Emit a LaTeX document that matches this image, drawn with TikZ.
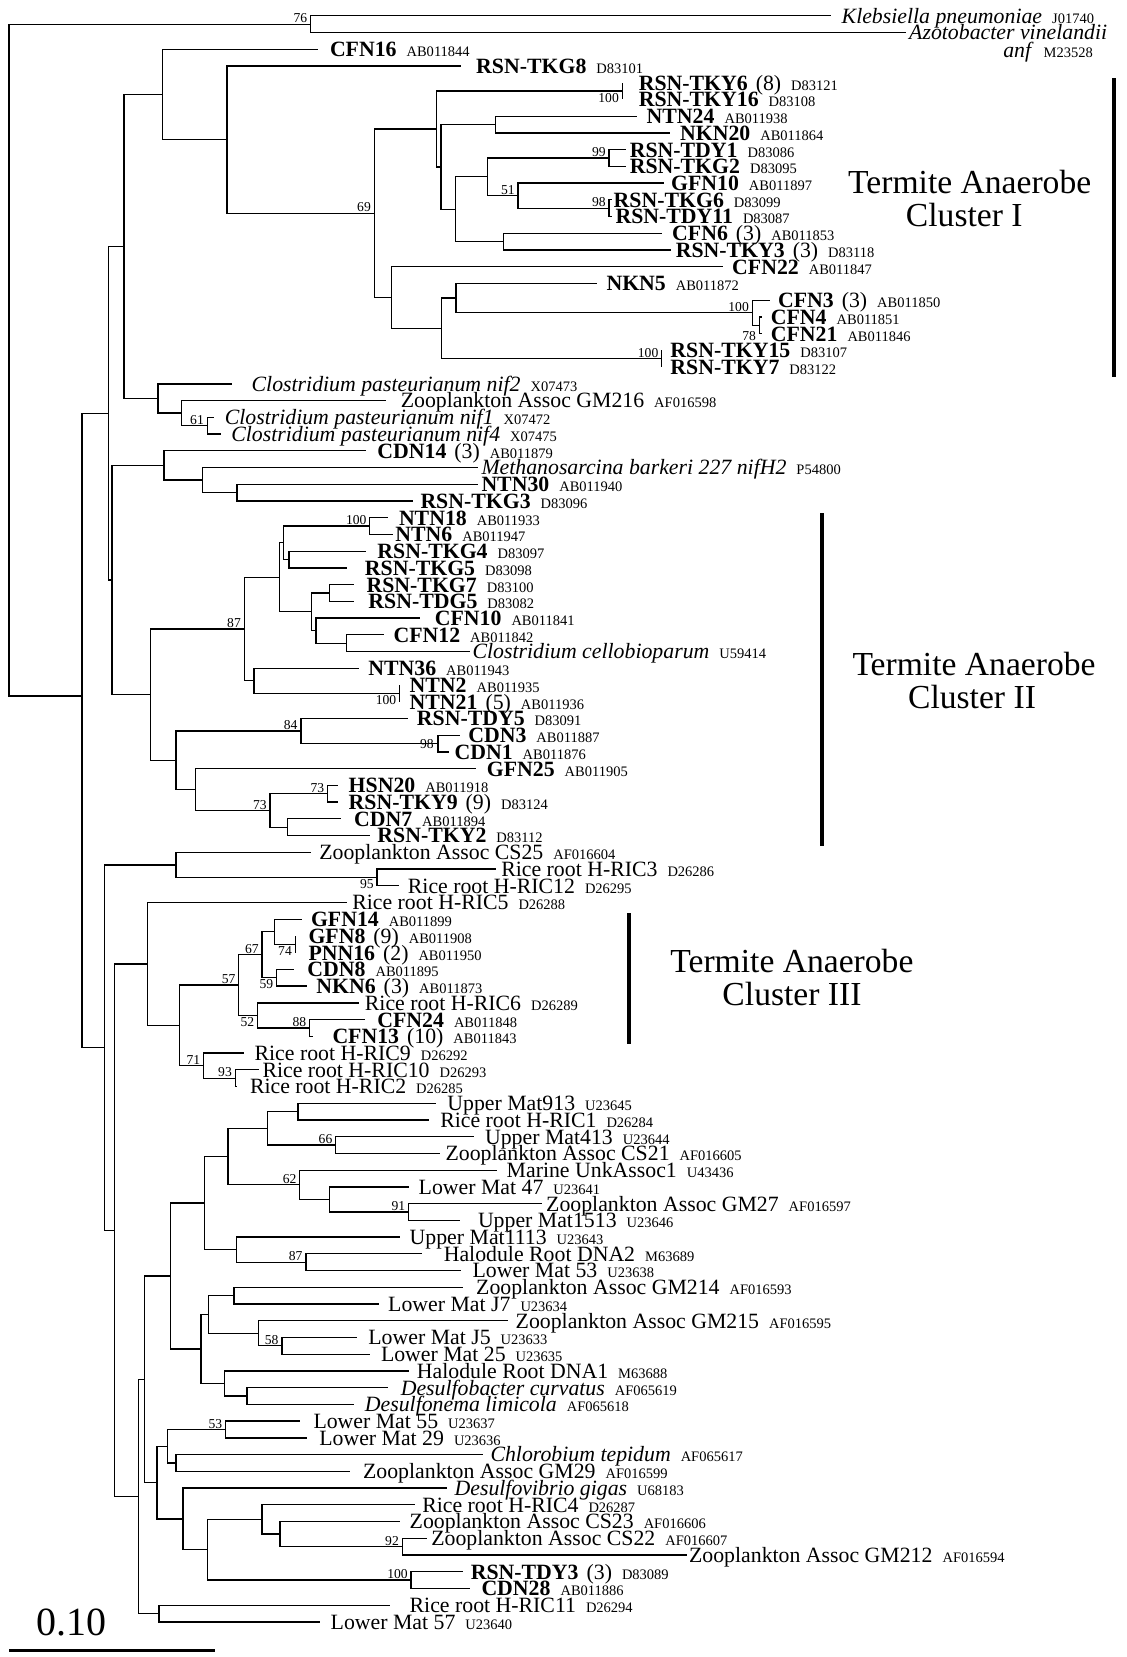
\documentclass[tikz,border=0pt]{standalone}
\usepackage{fontspec}
\setmainfont{Liberation Serif}
\newcommand\accn[1]{\hspace{5pt}{\fontsize{7.25}{8}\selectfont #1}}
\newcommand\cntn[1]{\hspace{4pt}(#1)}
\newcommand\leafnode[5]{%
  \coordinate (#1) at (#3,{15.8+16.73*(#2-1)});
  \node[lab] (#1-t) at (#4,{15.8+16.73*(#2-1)}) {#5};}
\newcommand\innode[3]{\coordinate (#1) at (#2,{15.8+16.73*(#3-1)});}
\newcommand\bsa[2]{\node[bsf,anchor=south east,xshift=-1.5pt,yshift=0.4pt] (bs-#1) at (#1) {#2};}
\newcommand\bsb[2]{\node[bsf,anchor=north east,xshift=-1.5pt,yshift=-0.8pt] (bs-#1) at (#1) {#2};}
\begin{document}
\begin{tikzpicture}[x=0.5pt,y=-0.5pt,
  lab/.style={anchor=base west,inner sep=0pt,yshift=-3.7pt,font=\fontsize{10.9}{12}\selectfont},
  bsf/.style={inner sep=0pt,font=\fontsize{6.8}{7}\selectfont},
  cl/.style={anchor=base,inner sep=0pt,font=\fontsize{16.8}{18}\selectfont},
  tr/.style={line width=0.65pt},
  bar/.style={line width=2pt}]
\fill[white] (0,0) rectangle (1126,1657);
\useasboundingbox (0,0) rectangle (1126,1657);
% ---------------- leaves
\leafnode{kleb}{1}{830.5}{841.3}{\textit{Klebsiella pneumoniae}\accn{J01740}}
\leafnode{azo}{2}{905.9}{908.8}{\textit{Azotobacter vinelandii}}
\node[anchor=base west,inner sep=0pt,font=\fontsize{10.9}{12}\selectfont] (anf) at (1002.9,57.3) {\textit{anf}\accn{M23528}};
\leafnode{cfn16}{3}{317.8}{329.6}{\textbf{CFN16}\accn{AB011844}}
\leafnode{tkg8}{4}{461.4}{475.8}{\textbf{RSN-TKG8}\accn{D83101}}
\leafnode{tky6}{5}{622.2}{638.4}{\textbf{RSN-TKY6}\cntn{8}\accn{D83121}}
\leafnode{tky16}{6}{622.2}{638.4}{\textbf{RSN-TKY16}\accn{D83108}}
\leafnode{ntn24}{7}{636.6}{646.3}{\textbf{NTN24}\accn{AB011938}}
\leafnode{nkn20}{8}{670}{679.7}{\textbf{NKN20}\accn{AB011864}}
\leafnode{tdy1}{9}{625.8}{629.4}{\textbf{RSN-TDY1}\accn{D83086}}
\leafnode{tkg2}{10}{625.8}{629.4}{\textbf{RSN-TKG2}\accn{D83095}}
\leafnode{gfn10}{11}{663.5}{670.7}{\textbf{GFN10}\accn{AB011897}}
\leafnode{tkg6}{12}{611.5}{613.3}{\textbf{RSN-TKG6}\accn{D83099}}
\leafnode{tdy11}{13}{611.5}{615.1}{\textbf{RSN-TDY11}\accn{D83087}}
\leafnode{cfn6}{14}{661.7}{671.8}{\textbf{CFN6}\cntn{3}\accn{AB011853}}
\leafnode{tky3}{15}{670.7}{675.4}{\textbf{RSN-TKY3}\cntn{3}\accn{D83118}}
\leafnode{cfn22}{16}{722.8}{731.8}{\textbf{CFN22}\accn{AB011847}}
\leafnode{nkn5}{17}{597.1}{606.1}{\textbf{NKN5}\accn{AB011872}}
\leafnode{cfn3}{18}{769.5}{777.7}{\textbf{CFN3}\cntn{3}\accn{AB011850}}
\leafnode{cfn4}{19}{762.3}{770.5}{\textbf{CFN4}\accn{AB011851}}
\leafnode{cfn21}{20}{762.3}{770.5}{\textbf{CFN21}\accn{AB011846}}
\leafnode{tky15}{21}{661.7}{670}{\textbf{RSN-TKY15}\accn{D83107}}
\leafnode{tky7}{22}{661.7}{670}{\textbf{RSN-TKY7}\accn{D83122}}
\leafnode{nif2}{23}{231.6}{251.3}{\textit{Clostridium pasteurianum nif2}\accn{X07473}}
\leafnode{gm216}{24}{386}{400.4}{Zooplankton Assoc GM216\accn{AF016598}}
\leafnode{nif1}{25}{213.6}{224.4}{\textit{Clostridium pasteurianum nif1}\accn{X07472}}
\leafnode{nif4}{26}{220.8}{230.9}{\textit{Clostridium pasteurianum nif4}\accn{X07475}}
\leafnode{cdn14}{27}{366.2}{377}{\textbf{CDN14}\cntn{3}\accn{AB011879}}
\leafnode{meth}{28}{477.6}{481.1}{\textit{Methanosarcina barkeri 227 nifH2}\accn{P54800}}
\leafnode{ntn30}{29}{477.6}{481.1}{\textbf{NTN30}\accn{AB011940}}
\leafnode{tkg3}{30}{412.9}{420.1}{\textbf{RSN-TKG3}\accn{D83096}}
\leafnode{ntn18}{31}{387.8}{398.6}{\textbf{NTN18}\accn{AB011933}}
\leafnode{ntn6}{32}{393.2}{395}{\textbf{NTN6}\accn{AB011947}}
\leafnode{tkg4}{33}{366.2}{377}{\textbf{RSN-TKG4}\accn{D83097}}
\leafnode{tkg5}{34}{346.5}{364.5}{\textbf{RSN-TKG5}\accn{D83098}}
\leafnode{tkg7}{35}{353.7}{366.2}{\textbf{RSN-TKG7}\accn{D83100}}
\leafnode{tdg5}{36}{353.7}{368}{\textbf{RSN-TDG5}\accn{D83082}}
\leafnode{cfn10}{37}{420.1}{434.5}{\textbf{CFN10}\accn{AB011841}}
\leafnode{cfn12}{38}{384.2}{393.2}{\textbf{CFN12}\accn{AB011842}}
\leafnode{ccel}{39}{470.4}{472.2}{\textit{Clostridium cellobioparum}\accn{U59414}}
\leafnode{ntn36}{40}{359.1}{368}{\textbf{NTN36}\accn{AB011943}}
\leafnode{ntn2}{41}{399.6}{409.3}{\textbf{NTN2}\accn{AB011935}}
\leafnode{ntn21}{42}{399.6}{409.3}{\textbf{NTN21}\cntn{5}\accn{AB011936}}
\leafnode{tdy5}{43}{407.5}{416.5}{\textbf{RSN-TDY5}\accn{D83091}}
\leafnode{cdn3}{44}{459.6}{467.9}{\textbf{CDN3}\accn{AB011887}}
\leafnode{cdn1}{45}{448.8}{454.2}{\textbf{CDN1}\accn{AB011876}}
\leafnode{gfn25}{46}{475.8}{486.5}{\textbf{GFN25}\accn{AB011905}}
\leafnode{hsn20}{47}{337.5}{348.3}{\textbf{HSN20}\accn{AB011918}}
\leafnode{tky9}{48}{337.5}{348.3}{\textbf{RSN-TKY9}\cntn{9}\accn{D83124}}
\leafnode{cdn7}{49}{341.1}{353.7}{\textbf{CDN7}\accn{AB011894}}
\leafnode{tky2}{50}{369.8}{377}{\textbf{RSN-TKY2}\accn{D83112}}
\leafnode{cs25}{51}{310.6}{318.9}{Zooplankton Assoc CS25\accn{AF016604}}
\leafnode{ric3}{52}{495.5}{500.9}{Rice root H-RIC3\accn{D26286}}
\leafnode{ric12}{53}{398.6}{407.5}{Rice root H-RIC12\accn{D26295}}
\leafnode{ric5}{54}{346.5}{351.9}{Rice root H-RIC5\accn{D26288}}
\leafnode{gfn14}{55}{301.6}{310.6}{\textbf{GFN14}\accn{AB011899}}
\leafnode{gfn8}{56}{295.2}{308.1}{\textbf{GFN8}\cntn{9}\accn{AB011908}}
\leafnode{pnn16}{57}{295.2}{308.1}{\textbf{PNN16}\cntn{2}\accn{AB011950}}
\leafnode{cdn8}{58}{294.4}{307}{\textbf{CDN8}\accn{AB011895}}
\leafnode{nkn6}{59}{307}{316}{\textbf{NKN6}\cntn{3}\accn{AB011873}}
\leafnode{ric6}{60}{359.1}{364.5}{Rice root H-RIC6\accn{D26289}}
\leafnode{cfn24}{61}{364.5}{377}{\textbf{CFN24}\accn{AB011848}}
\leafnode{cfn13}{62}{312.5}{332.1}{\textbf{CFN13}\cntn{10}\accn{AB011843}}
\leafnode{ric9}{63}{244.2}{254.2}{Rice root H-RIC9\accn{D26292}}
\leafnode{ric10}{64}{258.5}{262.1}{Rice root H-RIC10\accn{D26293}}
\leafnode{ric2}{65}{237}{249.6}{Rice root H-RIC2\accn{D26285}}
\leafnode{um913}{66}{436.3}{447}{Upper Mat913\accn{U23645}}
\leafnode{ric1}{67}{429.1}{439.9}{Rice root H-RIC1\accn{D26284}}
\leafnode{um413}{68}{474}{484.7}{Upper Mat413\accn{U23644}}
\leafnode{cs21}{69}{439.9}{445.2}{Zooplankton Assoc CS21\accn{AF016605}}
\leafnode{marine}{70}{497.3}{506.3}{Marine UnkAssoc1\accn{U43436}}
\leafnode{lm47}{71}{409.3}{418.3}{Lower Mat 47\accn{U23641}}
\leafnode{gm27}{72}{542.2}{545.8}{Zooplankton Assoc GM27\accn{AF016597}}
\leafnode{um1513}{73}{459.6}{477.6}{Upper Mat1513\accn{U23646}}
\leafnode{um1113}{74}{400.4}{409.3}{Upper Mat1113\accn{U23643}}
\leafnode{dna2}{75}{421.9}{443.4}{Halodule Root DNA2\accn{M63689}}
\leafnode{lm53}{76}{461.4}{472.2}{Lower Mat 53\accn{U23638}}
\leafnode{gm214}{77}{463.2}{475.8}{Zooplankton Assoc GM214\accn{AF016593}}
\leafnode{lmj7}{78}{378.8}{387.8}{Lower Mat J7\accn{U23634}}
\leafnode{gm215}{79}{508.1}{515.3}{Zooplankton Assoc GM215\accn{AF016595}}
\leafnode{lmj5}{80}{357.3}{368}{Lower Mat J5\accn{U23633}}
\leafnode{lm25}{81}{369.8}{380.6}{Lower Mat 25\accn{U23635}}
\leafnode{dna1}{82}{409.3}{416.5}{Halodule Root DNA1\accn{M63688}}
\leafnode{dbac}{83}{387.8}{400.4}{\textit{Desulfobacter curvatus}\accn{AF065619}}
\leafnode{dnem}{84}{353.7}{364.5}{\textit{Desulfonema limicola}\accn{AF065618}}
\leafnode{lm55}{85}{299.8}{313.1}{Lower Mat 55\accn{U23637}}
\leafnode{lm29}{86}{307}{318.9}{Lower Mat 29\accn{U23636}}
\leafnode{chl}{87}{482.9}{490.1}{\textit{Chlorobium tepidum}\accn{AF065617}}
\leafnode{gm29}{88}{350.1}{362.7}{Zooplankton Assoc GM29\accn{AF016599}}
\leafnode{dvib}{89}{447}{454.2}{\textit{Desulfovibrio gigas}\accn{U68183}}
\leafnode{ric4}{90}{414.7}{421.9}{Rice root H-RIC4\accn{D26287}}
\leafnode{cs23}{91}{400.4}{409.3}{Zooplankton Assoc CS23\accn{AF016606}}
\leafnode{cs22}{92}{427.3}{430.9}{Zooplankton Assoc CS22\accn{AF016607}}
\leafnode{gm212}{93}{686.9}{688.7}{Zooplankton Assoc GM212\accn{AF016594}}
\leafnode{tdy3}{94}{463.2}{470.4}{\textbf{RSN-TDY3}\cntn{3}\accn{D83089}}
\leafnode{cdn28}{95}{470.4}{481.1}{\textbf{CDN28}\accn{AB011886}}
\leafnode{ric11}{96}{389.6}{409.3}{Rice root H-RIC11\accn{D26294}}
\leafnode{lm57}{97}{319.6}{330.3}{Lower Mat 57\accn{U23640}}
% ---------------- internal nodes
\innode{root}{9}{1.5}
\innode{ka}{310.6}{1.5}
\innode{K}{82}{41.66}
\innode{C}{108.5}{24.757}
\innode{B}{123.9}{14.788}
\innode{n16}{162.7}{5.70117}
\innode{n210}{226.9}{8.40234}
\innode{n69}{374.2}{12.8047}
\innode{P}{436.3}{7.765625}
\innode{n56}{622.2}{5.5}
\innode{Q}{440.9}{10.03125}
\innode{R}{495.5}{7.5}
\innode{S}{455.3}{12.5625}
\innode{T}{487.6}{10.625}
\innode{V}{609}{9.5}
\innode{W}{518.1}{11.75}
\innode{n98}{609}{12.5}
\innode{U}{503.8}{14.5}
\innode{N}{391.4}{17.84375}
\innode{X}{441.7}{19.6875}
\innode{Y}{456}{17.875}
\innode{n100a}{752.2}{18.75}
\innode{n78}{759.4}{19.5}
\innode{n1507}{661.7}{21.5}
\innode{clo}{158}{23.875}
\innode{Z}{181.3}{24.75}
\innode{n61}{207.2}{25.5}
\innode{L}{112}{34.727}
\innode{M}{164.1}{27.875}
\innode{mth}{202.2}{28.75}
\innode{n220}{237}{29.5}
\innode{D}{150.8}{41.578}
\innode{n87}{244.2}{37.65625}
\innode{AA}{279.4}{34.5625}
\innode{AB}{283.7}{32.5}
\innode{n100}{369.8}{31.5}
\innode{n45}{289}{33.5}
\innode{AC}{311.7}{36.625}
\innode{n75}{329.6}{35.5}
\innode{AD}{316}{37.75}
\innode{AE}{346.5}{38.5}
\innode{AF}{253.9}{40.75}
\innode{n100b}{399.6}{41.5}
\innode{AG}{175.9}{45.5}
\innode{n84}{300.9}{43.75}
\innode{n98b}{438.1}{44.5}
\innode{AH}{195.7}{47.25}
\innode{n73b}{270}{48.5}
\innode{n73a}{327.5}{47.5}
\innode{n72}{287.3}{49.5}
\innode{J}{104.8}{62.668}
\innode{AI}{175.9}{51.75}
\innode{n95}{377}{52.5}
\innode{I}{114.2}{73.586}
\innode{AJ}{147.2}{57.671875}
\innode{AK}{179.5}{61.34375}
\innode{n57}{238.8}{58.9375}
\innode{n67}{262.1}{57.125}
\innode{gfn}{274.7}{55.75}
\innode{n74}{295.2}{56.5}
\innode{n59}{276.5}{58.5}
\innode{n52}{257.5}{60.75}
\innode{n88}{309.5}{61.5}
\innode{n71}{203.6}{63.75}
\innode{n93}{235.2}{64.5}
\innode{H}{138.2}{89.5}
\innode{E}{144.3}{82.5}
\innode{F}{170.6}{76.328}
\innode{F1}{204.7}{71.96875}
\innode{F1a}{228}{69.1875}
\innode{F1a1}{267.5}{67.5}
\innode{um}{298}{66.5}
\innode{n66}{335.7}{68.5}
\innode{n62}{299.8}{70.875}
\innode{F1a2}{329.6}{71.75}
\innode{n91}{408.6}{72.5}
\innode{F1b}{236.3}{74.75}
\innode{n87b}{305.9}{75.5}
\innode{F2}{201.1}{80.6875}
\innode{F2a}{208.3}{78.625}
\innode{gmj}{234.1}{77.5}
\innode{n240}{258.5}{79.75}
\innode{n58}{281.9}{80.5}
\innode{F2b}{224.4}{82.75}
\innode{ds}{247}{83.5}
\innode{G}{156.9}{88.671875}
\innode{n155}{167.7}{86.5}
\innode{n53}{225.5}{85.5}
\innode{chg}{175.9}{87.5}
\innode{G2}{183.1}{90.84375}
\innode{G3}{207.5}{92.6875}
\innode{G4}{262.1}{90.875}
\innode{G5}{280.1}{91.75}
\innode{n92}{402.2}{92.5}
\innode{n100c}{411.1}{94.5}
\innode{rl}{159.1}{96.5}
% ---------------- branches
\foreach \p/\c in {root/ka,root/K,ka/kleb,ka/azo,K/C,K/J,C/B,C/L,B/n16,B/clo,
 n16/cfn16,n16/n210,n210/tkg8,n210/n69,n69/P,n69/N,P/n56,P/Q,n56/tky6,n56/tky16,
 Q/R,Q/S,R/ntn24,R/nkn20,S/T,S/U,T/V,T/W,V/tdy1,V/tkg2,W/gfn10,W/n98,n98/tkg6,n98/tdy11,
 U/cfn6,U/tky3,N/cfn22,N/X,X/Y,X/n1507,Y/nkn5,Y/n100a,n100a/cfn3,n100a/n78,n78/cfn4,n78/cfn21,
 n1507/tky15,n1507/tky7,clo/nif2,clo/Z,Z/gm216,Z/n61,n61/nif1,n61/nif4,
 L/M,L/D,M/cdn14,M/mth,mth/meth,mth/n220,n220/ntn30,n220/tkg3,
 D/n87,D/AG,n87/AA,n87/AF,AA/AB,AA/AC,AB/n100,AB/n45,n100/ntn18,n100/ntn6,n45/tkg4,n45/tkg5,
 AC/n75,AC/AD,n75/tkg7,n75/tdg5,AD/cfn10,AD/AE,AE/cfn12,AE/ccel,AF/ntn36,AF/n100b,
 n100b/ntn2,n100b/ntn21,AG/n84,AG/AH,n84/tdy5,n84/n98b,n98b/cdn3,n98b/cdn1,
 AH/gfn25,AH/n73b,n73b/n73a,n73b/n72,n73a/hsn20,n73a/tky9,n72/cdn7,n72/tky2,
 J/AI,J/I,AI/cs25,AI/n95,n95/ric3,n95/ric12,I/AJ,I/H,AJ/ric5,AJ/AK,AK/n57,AK/n71,
 n57/n67,n57/n52,n67/gfn,n67/n59,gfn/gfn14,gfn/n74,n74/gfn8,n74/pnn16,n59/cdn8,n59/nkn6,
 n52/ric6,n52/n88,n88/cfn24,n88/cfn13,n71/ric9,n71/n93,n93/ric10,n93/ric2,
 H/E,H/rl,E/F,E/G,F/F1,F/F2,F1/F1a,F1/F1b,F1a/F1a1,F1a/n62,F1a1/um,F1a1/n66,
 um/um913,um/ric1,n66/um413,n66/cs21,n62/marine,n62/F1a2,F1a2/lm47,F1a2/n91,
 n91/gm27,n91/um1513,F1b/um1113,F1b/n87b,n87b/dna2,n87b/lm53,
 F2/F2a,F2/F2b,F2a/gmj,F2a/n240,gmj/gm214,gmj/lmj7,n240/gm215,n240/n58,
 n58/lmj5,n58/lm25,F2b/dna1,F2b/ds,ds/dbac,ds/dnem,
 G/n155,G/G2,n155/n53,n155/chg,n53/lm55,n53/lm29,chg/chl,chg/gm29,
 G2/dvib,G2/G3,G3/G4,G3/n100c,G4/ric4,G4/G5,G5/cs23,G5/n92,n92/cs22,n92/gm212,
 n100c/tdy3,n100c/cdn28,rl/ric11,rl/lm57}
 \draw[tr] (\p) |- (\c);
% ---------------- bootstrap values
\bsa{ka}{76} \bsa{n69}{69} \bsa{V}{99} \bsa{W}{51} \bsa{n98}{98}
\bsa{n100a}{100} \bsa{n1507}{100} \bsa{n61}{61} \bsa{n100}{100} \bsa{n87}{87}
\bsa{n84}{84} \bsa{n73a}{73} \bsa{n73b}{73} \bsa{n67}{67} \bsa{n57}{57}
\bsa{n88}{88} \bsa{n71}{71} \bsa{n93}{93} \bsa{n66}{66} \bsa{n62}{62}
\bsa{n91}{91} \bsa{n87b}{87} \bsa{n58}{58} \bsa{n53}{53} \bsa{n92}{92} \bsa{n100c}{100}
\bsb{n56}{100} \bsb{n100b}{100} \bsb{n95}{95} \bsb{n74}{74} \bsb{n59}{59} \bsb{n52}{52}
\node[bsf,anchor=north east,xshift=-1.5pt,yshift=-3pt] (bs-n78) at (n78) {78};
\node[bsf,anchor=east,xshift=-2pt] (bs-n98b) at (n98b) {98};
% ---------------- cluster bars and labels
\coordinate (b1a) at (1114,78.3); \coordinate (b1b) at (1114,376.7);
\coordinate (b2a) at (821.5,513.3); \coordinate (b2b) at (821.5,846);
\coordinate (b3a) at (629.4,913.3); \coordinate (b3b) at (629.4,1044.3);
\draw[bar] (b1a) -- (b1b);
\draw[bar] (b2a) -- (b2b);
\draw[bar] (b3a) -- (b3b);
\node[cl] (c1a) at (969.7,193.3) {Termite Anaerobe};
\node[cl] (c1b) at (964.3,226.7) {Cluster I};
\node[cl] (c2a) at (974,675) {Termite Anaerobe};
\node[cl] (c2b) at (972,708.3) {Cluster II};
\node[cl] (c3a) at (791.9,972.7) {Termite Anaerobe};
\node[cl] (c3b) at (792,1005) {Cluster III};
% ---------------- scale bar
\coordinate (sb1) at (9,1650); \coordinate (sb2) at (215.4,1650);
\draw[line width=1.5pt] (sb1) -- (sb2);
\node[anchor=base west,inner sep=0pt,font=\fontsize{20}{22}\selectfont] (sbl) at (36,1635) {0.10};
\end{tikzpicture}
\end{document}
